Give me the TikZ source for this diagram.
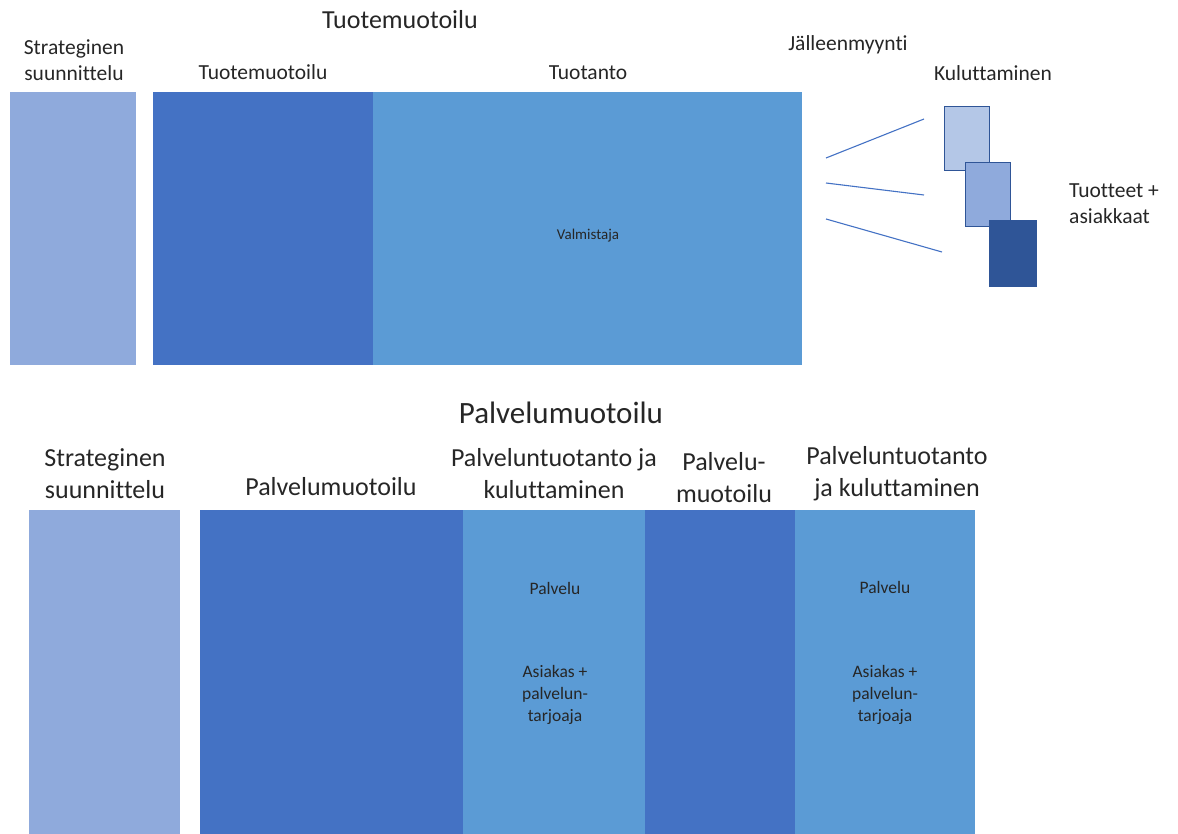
\documentclass[tikz,border=0pt]{standalone}
\usepackage{fontspec}
\setmainfont{Carlito}[Ligatures=NoCommon]
\definecolor{stratcol}{HTML}{8FAADC}
\definecolor{designcol}{HTML}{4472C4}
\definecolor{prodcol}{HTML}{5B9BD5}
\definecolor{palecol}{HTML}{B4C7E7}
\definecolor{navycol}{HTML}{2F5597}
\definecolor{txtcol}{HTML}{262626}
\begin{document}
\begin{tikzpicture}[x=1pt,y=-1pt,
  bar/.style={inner sep=0pt,outer sep=0pt,anchor=north west},
  card/.style={bar,draw=navycol,line width=1pt,minimum width=45pt,minimum height=64pt},
  head/.style={text=txtcol,align=center,inner sep=0pt,font=\fontsize{26}{30}\selectfont},
  lab/.style={text=txtcol,align=center,inner sep=0pt,font=\fontsize{21.5}{26}\selectfont},
  blab/.style={text=txtcol,align=center,inner sep=0pt,font=\fontsize{26}{32}\selectfont},
  small/.style={text=black!85,align=center,inner sep=0pt,font=\fontsize{17.5}{22}\selectfont}]
\useasboundingbox (0,0) rectangle (1178,834);
% tuotemuotoilu
\node[bar,fill=stratcol,minimum width=126pt,minimum height=273pt] (strat1) at (10,92) {};
\node[bar,fill=designcol,minimum width=220pt,minimum height=273pt] (design1) at (153,92) {};
\node[bar,fill=prodcol,minimum width=429pt,minimum height=273pt] (prod1) at (design1.north east) {};
\node[head] (title1) at (400,20) {Tuotemuotoilu};
\node[lab] (stratlab1) at (74,60) {Strateginen\\suunnittelu};
\node[lab] (designlab1) at (263,72) {Tuotemuotoilu};
\node[lab] (prodlab1) at (588,73) {Tuotanto};
\node[lab] (resale) at (848,45) {Jälleenmyynti};
\node[lab] (consume) at (993,73) {Kuluttaminen};
\node[lab,align=left,anchor=west] (goods) at (1069,204) {Tuotteet +\\asiakkaat};
\node[small,font=\fontsize{15}{18}\selectfont] (maker) at (588,236) {Valmistaja};
\node[card,fill=palecol,minimum height=64pt] (card1) at (944,107) {};
\node[card,fill=stratcol] (card2) at (965,163) {};
\node[card,fill=navycol,minimum width=47pt,minimum height=66pt] (card3) at (989,221) {};
\coordinate (s1) at (826,158); \coordinate (e1) at (924,119);
\coordinate (s2) at (826,183); \coordinate (e2) at (924,195);
\coordinate (s3) at (826,219); \coordinate (e3) at (942,252);
\foreach \i in {1,2,3}
  \draw[designcol,line width=1.1pt] (s\i) -- (e\i);
% palvelumuotoilu
\node[bar,fill=stratcol,minimum width=151pt,minimum height=330pt] (strat2) at (29,510) {};
\node[bar,fill=designcol,minimum width=263pt,minimum height=330pt] (design2) at (200,510) {};
\node[bar,fill=prodcol,minimum width=182pt,minimum height=330pt] (serv2) at (design2.north east) {};
\node[bar,fill=designcol,minimum width=150pt,minimum height=330pt] (design3) at (serv2.north east) {};
\node[bar,fill=prodcol,minimum width=180pt,minimum height=330pt] (serv3) at (design3.north east) {};
\node[head,font=\fontsize{31}{36}\selectfont] (title2) at (561,413) {Palvelumuotoilu};
\node[blab] (stratlab2) at (105,474) {Strateginen\\suunnittelu};
\node[blab] (designlab2) at (331,487) {Palvelumuotoilu};
\node[blab] (servlab2) at (554,474) {Palveluntuotanto ja\\kuluttaminen};
\node[blab] (designlab3) at (724,478) {Palvelu-\\muotoilu};
\node[blab] (servlab3) at (897,474) {Palveluntuotanto\\ja kuluttaminen};
\node[small] (serv2a) at (555,588) {Palvelu};
\node[small] (serv2b) at (555,695) {Asiakas +\\palvelun-\\tarjoaja};
\node[small] (serv3a) at (885,587) {Palvelu};
\node[small] (serv3b) at (885,695) {Asiakas +\\palvelun-\\tarjoaja};
\end{tikzpicture}
\end{document}
